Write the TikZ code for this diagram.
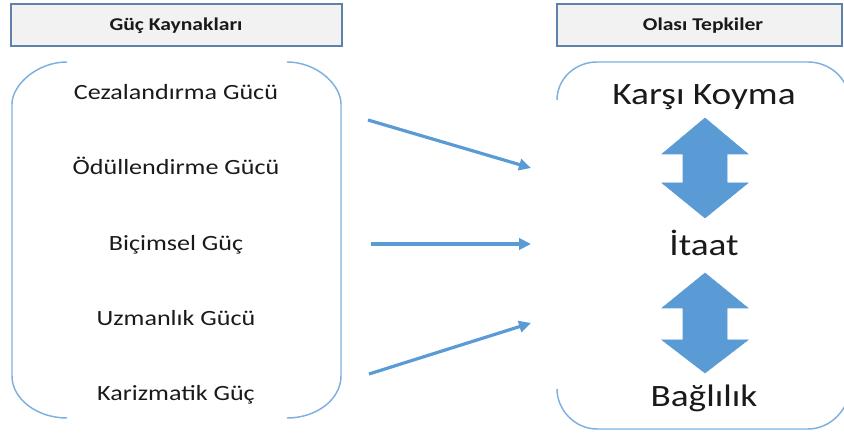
\documentclass[tikz,border=0pt]{standalone}
\usepackage{fontspec}
\setmainfont{Carlito}[FakeStretch=1.2]
\usetikzlibrary{arrows.meta}
\definecolor{accent}{HTML}{5B9BD5}
\definecolor{bracketline}{HTML}{7DB0E0}
\definecolor{headfill}{HTML}{F2F2F2}
\definecolor{headline}{HTML}{5F82AA}
\definecolor{ink}{HTML}{1A1A1A}
\tikzset{
  headbox/.style={draw=headline, line width=1.2pt, fill=headfill},
  headtext/.style={anchor=base, text=ink, font=\fontsize{13.5}{16}\selectfont\bfseries},
  sourcetext/.style={anchor=base, text=ink, font=\fontsize{16.3}{19}\selectfont},
  responsetext/.style={anchor=base, text=ink, font=\fontsize{23.3}{27}\selectfont},
  bracket/.style={draw=bracketline, line width=1.1pt},
  flow/.style={draw=accent, line width=2.4pt, -{Triangle[length=9pt,width=8.5pt]}},
  bigarrow/.style={fill=accent, draw=accent, line width=0.4pt, line join=miter}
}
\begin{document}
\begin{tikzpicture}[x=0.75pt, y=-0.75pt]
  \clip (0,0) rectangle (844,434);

  % header boxes
  \draw[headbox] (11,4) rectangle (342,46);
  \draw[headbox] (557,4) rectangle (842,46);
  \node[headtext] (h1) at (176,30.5) {Güç Kaynakları};
  \node[headtext] (h2) at (703,30.5) {Olası Tepkiler};

  % left bracket: rounded frame open at the top and bottom middle
  \draw[bracket] (67,62) .. controls (37,62) and (12,85) .. (12,104)
    -- (12,376) .. controls (12,399) and (37,418) .. (67,418);
  \draw[bracket] (287,62) .. controls (317,62) and (341,85) .. (341,104)
    -- (341,376) .. controls (341,399) and (317,418) .. (287,418);

  % right bracket: rounded frame open along the left side
  \draw[bracket] (557,100) .. controls (557,79) and (575,62) .. (597,62)
    -- (808,62) .. controls (830,62) and (849,79) .. (849,100)
    -- (849,389) .. controls (849,410) and (830,429) .. (808,429)
    -- (597,429) .. controls (575,429) and (557,410) .. (557,389);

  % power sources
  \node[sourcetext] (s1) at (176,100) {Cezalandırma Gücü};
  \node[sourcetext] (s2) at (176,175) {Ödüllendirme Gücü};
  \node[sourcetext] (s3) at (176,250.5) {Biçimsel Güç};
  \node[sourcetext] (s4) at (176,325.5) {Uzmanlık Gücü};
  \node[sourcetext] (s5) at (176,400.5) {Karizmatik Güç};

  % possible responses
  \node[responsetext] (r1) at (704,105) {Karşı Koyma};
  \node[responsetext] (r2) at (704,255.5) {İtaat};
  \node[responsetext] (r3) at (704,407) {Bağlılık};

  % flow arrows
  \coordinate (a1s) at (368,120);
  \coordinate (a1e) at (531,168);
  \coordinate (a2s) at (371,244);
  \coordinate (a2e) at (531,244);
  \coordinate (a3s) at (369,374);
  \coordinate (a3e) at (531,323);
  \draw[flow] (a1s) -- (a1e);
  \draw[flow] (a2s) -- (a2e);
  \draw[flow] (a3s) -- (a3e);

  % double-headed block arrows between responses
  \draw[bigarrow] (705,118) -- (748,154) -- (727,154) -- (727,183) -- (748,183)
    -- (705,218) -- (662,183) -- (683,183) -- (683,154) -- (662,154) -- cycle;
  \draw[bigarrow] (705,273) -- (748,308) -- (727,308) -- (727,340) -- (748,340)
    -- (705,373) -- (662,340) -- (683,340) -- (683,308) -- (662,308) -- cycle;
\end{tikzpicture}
\end{document}
